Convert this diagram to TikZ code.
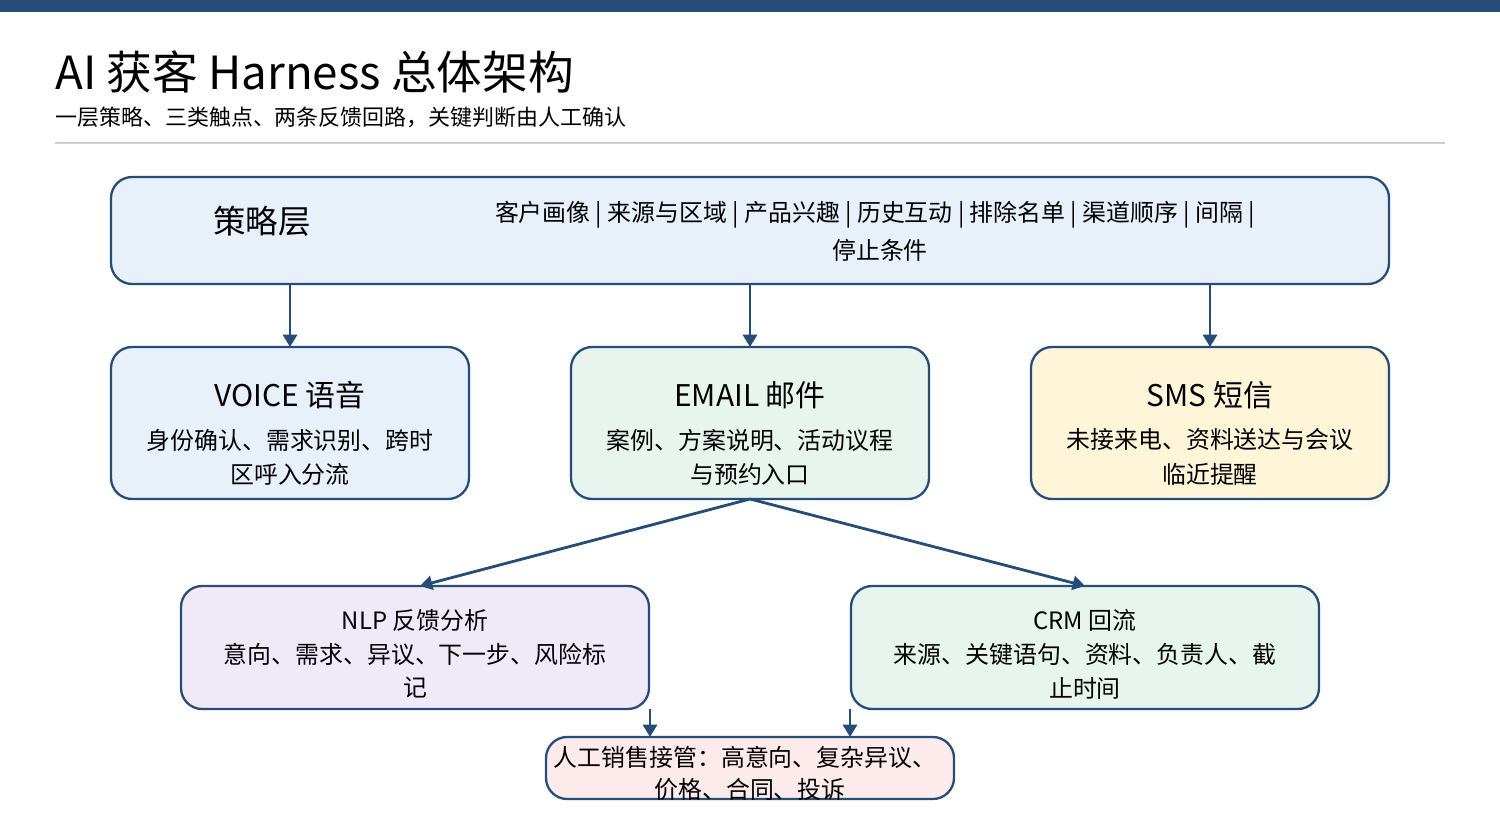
\documentclass[tikz,border=0pt]{standalone}
\usepackage{fontspec}
\setmainfont{Noto Sans CJK SC}
\usetikzlibrary{arrows.meta}
\definecolor{navy}{HTML}{264C78}
\definecolor{rulegray}{HTML}{C5CFDB}
\definecolor{fillblue}{HTML}{E8F1FA}
\definecolor{fillgreen}{HTML}{E8F4EE}
\definecolor{fillyellow}{HTML}{FFF5D9}
\definecolor{fillpurple}{HTML}{F0EAF8}
\definecolor{fillred}{HTML}{FCEBEA}
\begin{document}
\begin{tikzpicture}[x=0.02cm,y=-0.02cm,
  box/.style={draw=navy,line width=1.3pt,rounded corners=12pt},
  body text/.style={font=\fontsize{13.6}{16}\selectfont,inner sep=0pt},
  head text/.style={font=\fontsize{17}{20}\selectfont,inner sep=0pt},
  link/.style={draw=navy,line width=1.6pt,-{Triangle[length=7pt,width=8pt]}}]

\useasboundingbox (0,0) rectangle (1500,820);
\fill[navy] (0,0) rectangle (1500,12);

% title
\node[anchor=west,inner sep=0pt,font=\fontsize{26}{30}\selectfont] (title) at (55,72) {AI 获客 Harness 总体架构};
\node[anchor=west,inner sep=0pt,font=\fontsize{12.5}{15}\selectfont] (subtitle) at (55,117) {一层策略、三类触点、两条反馈回路，关键判断由人工确认};
\draw[rulegray,line width=0.8pt] (55,143) -- (1445,143);

% strategy layer
\draw[box,fill=fillblue] (111,177) rectangle (1389,284);
\node[inner sep=0pt,font=\fontsize{18.5}{22}\selectfont] (strategy) at (262,221) {策略层};
\node[body text] (items) at (875,215) {客户画像 | 来源与区域 | 产品兴趣 | 历史互动 | 排除名单 | 渠道顺序 | 间隔 |};
\node[body text] (items2) at (880,250) {停止条件};
\coordinate (s1) at (290,284);
\coordinate (s2) at (750,284);
\coordinate (s3) at (1210,284);

% channels
\draw[box,fill=fillblue] (111,347) rectangle (469,499);
\node[head text] (voice) at (290,395) {VOICE 语音};
\node[body text] at (290,440) {身份确认、需求识别、跨时};
\node[body text] at (290,474) {区呼入分流};
\coordinate (voicetop) at (290,347);

\draw[box,fill=fillgreen] (571,347) rectangle (929,499);
\node[head text] (email) at (750,395) {EMAIL 邮件};
\node[body text] at (750,440) {案例、方案说明、活动议程};
\node[body text] at (750,474) {与预约入口};
\coordinate (emailtop) at (750,347);
\coordinate (emailbot) at (750,499);

\draw[box,fill=fillyellow] (1031,347) rectangle (1389,499);
\node[head text] (sms) at (1210,395) {SMS 短信};
\node[body text] at (1210,440) {未接来电、资料送达与会议};
\node[body text] at (1210,474) {临近提醒};
\coordinate (smstop) at (1210,347);

% feedback loops
\draw[box,fill=fillpurple] (181,586) rectangle (649,709);
\node[body text] (nlp) at (415,620) {NLP 反馈分析};
\node[body text] at (415,654) {意向、需求、异议、下一步、风险标};
\node[body text] at (415,688) {记};
\coordinate (nlptop) at (420,586);
\coordinate (nlpbot) at (650,709);

\draw[box,fill=fillgreen] (851,586) rectangle (1319,709);
\node[body text] (crm) at (1085,620) {CRM 回流};
\node[body text] at (1085,654) {来源、关键语句、资料、负责人、截};
\node[body text] at (1085,688) {止时间};
\coordinate (crmtop) at (1085,586);
\coordinate (crmbot) at (850,709);

% human takeover
\draw[box,fill=fillred] (546,737) rectangle (954,799);
\node[body text] (human) at (745,757) {人工销售接管：高意向、复杂异议、};
\node[body text] at (750,789) {价格、合同、投诉};
\coordinate (humanl) at (650,737);
\coordinate (humanr) at (850,737);

\draw[link] (s1) -- (voicetop);
\draw[link] (s2) -- (emailtop);
\draw[link] (s3) -- (smstop);
\draw[link] (emailbot) -- (nlptop);
\draw[link] (emailbot) -- (crmtop);
\draw[link] (nlpbot) -- (humanl);
\draw[link] (crmbot) -- (humanr);

\end{tikzpicture}
\end{document}
